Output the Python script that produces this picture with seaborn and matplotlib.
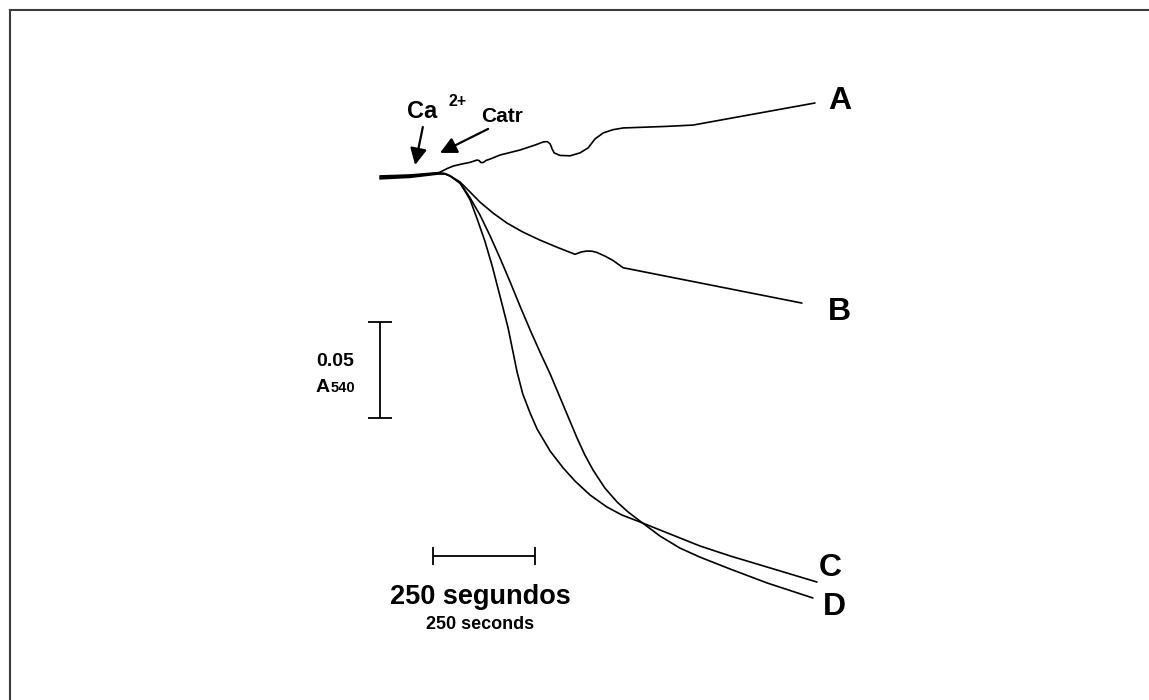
import numpy as np
import pandas as pd
import matplotlib
matplotlib.use("Agg")
import matplotlib.pyplot as plt
import seaborn as sns

# ---------------- data (time in s, absorbance change at 540 nm in mA units) ----------------
t_A = [0, 74, 142, 152, 165, 180, 200, 221, 238, 243, 247, 253, 260, 270, 294, 343, 380, 400, 410,
       417, 422, 427, 441, 466, 490, 510, 527, 547, 571, 596, 700, 767, 1066]
a_A = [-1.0, -0.3, 1.0, 2.0, 3.4, 4.7, 5.7, 6.6, 7.8, 7.5, 6.5, 6.5, 7.6, 8.3, 10.4, 13.0, 15.6, 17.2, 17.4,
       16.2, 13.5, 11.5, 10.2, 10.0, 11.5, 14.1, 18.8, 21.9, 23.6, 24.5, 25.3, 26.0, 37.5]

t_B = [0, 74, 142, 159, 172, 196, 221, 245, 277, 311, 350, 392, 436, 478, 493, 507, 520, 531,
       551, 571, 596, 1034]
a_B = [-1.6, -0.8, 0.8, 0.6, -0.5, -3.6, -8.9, -14.1, -19.8, -25.0, -29.7, -33.9, -37.8, -41.3,
       -40.1, -39.6, -39.7, -40.3, -42.2, -44.5, -48.3, -66.7]

t_C = [0, 74, 142, 159, 172, 196, 208, 221, 240, 257, 275, 289, 301, 314, 324, 336, 350, 368,
       385, 417, 449, 478, 515, 556, 593, 637, 711, 784, 858, 949, 1071]
a_C = [-0.5, 0.0, 1.2, 0.8, -0.5, -4.2, -8.3, -13.0, -24.0, -34.4, -47.4, -58.9, -68.8, -79.7,
       -90.1, -102.6, -114.1, -124.0, -132.3, -143.8, -152.6, -159.4, -166.7, -172.9, -177.1,
       -180.7, -187.0, -193.2, -198.4, -204.2, -212.0]

t_D = [0, 74, 142, 159, 172, 196, 208, 221, 245, 270, 294, 319, 343, 368, 392, 417, 449, 483,
       502, 522, 551, 581, 608, 637, 686, 735, 784, 858, 949, 1061]
a_D = [-2.0, -1.2, 0.5, 0.6, -0.5, -4.2, -7.8, -12.0, -20.8, -31.8, -43.2, -55.7, -68.2, -80.7,
       -92.2, -103.6, -119.8, -137.0, -145.8, -153.6, -163.0, -170.3, -175.5, -180.2, -188.0,
       -194.3, -199.0, -205.2, -212.5, -220.3]

trace_names = ["A", "B", "C", "D"]
scale_time = 250      # s
scale_abs = 50        # mA  (0.05 A540)

# ---------------- layout constants ----------------
W, H = 1149, 700
X0_PX, Y0_PX = 380, 175          # pixel of t=0, dA=0
PX_PER_S, PX_PER_MA = 0.408, 1.92
FRAME = 10                       # frame offset (px)

df = pd.concat([
    pd.DataFrame({"t": t, "dA": a, "trace": n})
    for n, t, a in zip(trace_names, [t_A, t_B, t_C, t_D], [a_A, a_B, a_C, a_D])
], ignore_index=True)

sns.set_theme(style="white")
plt.rcParams["font.family"] = ["Liberation Sans", "DejaVu Sans"]
plt.rcParams["text.color"] = "black"

fig = plt.figure(figsize=(W / 100, H / 100), dpi=100)
ax = fig.add_axes([FRAME / W, 0, 1 - FRAME / W, 1 - FRAME / H])

sns.lineplot(data=df, x="t", y="dA", hue="trace", palette={n: "black" for n in trace_names},
             sort=False, estimator=None, legend=False, lw=1.2, ax=ax)

ax.set_xlim((FRAME - X0_PX) / PX_PER_S, (W - X0_PX) / PX_PER_S)
ax.set_ylim((Y0_PX - H) / PX_PER_MA, (Y0_PX - FRAME) / PX_PER_MA)
ax.set_xticks([]); ax.set_yticks([])
ax.set_xlabel(""); ax.set_ylabel("")
for s in ["right", "bottom"]:
    ax.spines[s].set_visible(False)
for s in ["top", "left"]:
    ax.spines[s].set_visible(True)
    ax.spines[s].set_color("#3c3c3c")
    ax.spines[s].set_linewidth(1.5)

# trace labels
lab_pos = {"A": (1127, 38.3), "B": (1127, -71.4), "C": (1103, -204.7), "D": (1115, -225.0)}
for n in trace_names:
    ax.text(*lab_pos[n], n, ha="center", va="center", fontsize=23, fontweight="bold")

# additions arrows
arrow_kw = dict(arrowstyle="-|>", color="black", lw=1.6, mutation_scale=25, shrinkA=0, shrinkB=0)
ax.annotate("", xy=(86, 5.2), xytext=(105, 25.0), arrowprops=arrow_kw)
ax.annotate("", xy=(147, 11.5), xytext=(265, 24.0), arrowprops=arrow_kw)
ax.text(103, 33.3, "Ca", ha="center", va="center", fontsize=17, fontweight="bold")
ax.text(189, 38.5, "2+", ha="center", va="center", fontsize=11.5, fontweight="bold")
ax.text(299, 30.7, "Catr", ha="center", va="center", fontsize=15, fontweight="bold")

# vertical scale bar (0.05 A540)
ax.errorbar(0, -76.6 - scale_abs / 2, yerr=scale_abs / 2, color="black", lw=1.3,
            capsize=8.3, capthick=1.3)
ax.text(-157, -99.7, "0.05", ha="left", va="baseline", fontsize=14, fontweight="bold")
ax.text(-157, -113.0, "A", ha="left", va="baseline", fontsize=14, fontweight="bold")
ax.text(-120, -113.0, "540", ha="left", va="baseline", fontsize=10.5, fontweight="bold")

# horizontal scale bar (250 s)
ax.errorbar(131 + scale_time / 2, -198.4, xerr=scale_time / 2, color="black", lw=1.3,
            capsize=6.8, capthick=1.3)
ax.text(245, -223.4, "250 segundos", ha="center", va="baseline", fontsize=19.5, fontweight="bold")
ax.text(245, -236.5, "250 seconds", ha="center", va="baseline", fontsize=13, fontweight="bold")

fig.savefig("out.png", dpi=100, facecolor="white")
